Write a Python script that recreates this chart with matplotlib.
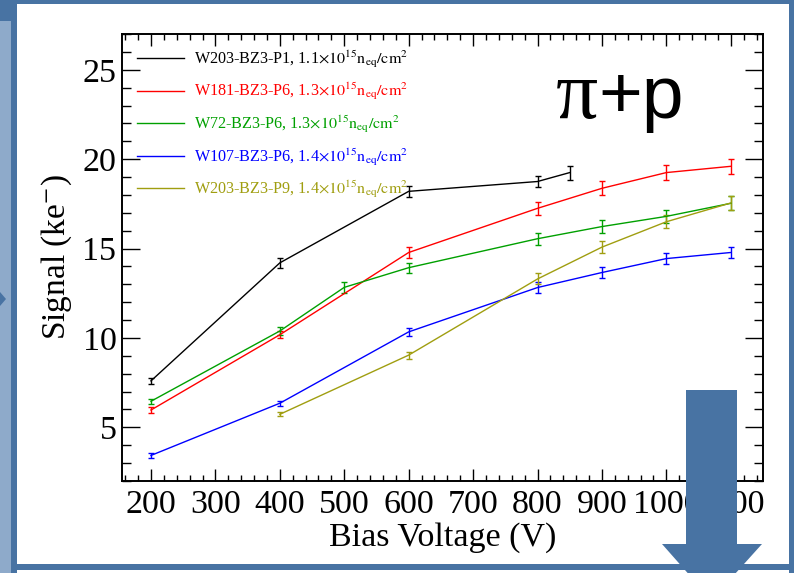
import matplotlib
matplotlib.use("Agg")
import matplotlib.pyplot as plt
from matplotlib.lines import Line2D
from matplotlib.patches import Rectangle, Polygon
from matplotlib.ticker import MultipleLocator

plt.rcParams["font.family"] = ["Liberation Serif", "DejaVu Serif"]
plt.rcParams["mathtext.fontset"] = "stix"

# data
v_w203_p1 = [200, 400, 600, 800, 850]
s_w203_p1 = [7.6, 14.2, 18.2, 18.75, 19.25]
e_w203_p1 = [0.18, 0.3, 0.3, 0.33, 0.39]

v_w181_p6 = [200, 400, 600, 800, 900, 1000, 1100]
s_w181_p6 = [5.97, 10.18, 14.78, 17.25, 18.37, 19.25, 19.6]
e_w181_p6 = [0.15, 0.2, 0.28, 0.38, 0.4, 0.43, 0.42]

v_w72_p6 = [200, 400, 500, 600, 800, 900, 1000, 1100]
s_w72_p6 = [6.46, 10.39, 12.83, 13.93, 15.55, 16.23, 16.8, 17.53]
e_w72_p6 = [0.15, 0.2, 0.29, 0.28, 0.33, 0.37, 0.36, 0.4]

v_w107_p6 = [200, 400, 600, 800, 900, 1000, 1100]
s_w107_p6 = [3.43, 6.35, 10.34, 12.82, 13.66, 14.44, 14.78]
e_w107_p6 = [0.12, 0.15, 0.22, 0.3, 0.33, 0.33, 0.3]

v_w203_p9 = [400, 600, 800, 900, 1000, 1100]
s_w203_p9 = [5.73, 9.04, 13.3, 15.08, 16.5, 17.55]
e_w203_p9 = [0.12, 0.2, 0.31, 0.33, 0.35, 0.38]

labels = [
    r"W203-BZ3-P1, 1.1$\times10^{15}\mathrm{n}_{\mathrm{eq}}/\mathrm{cm}^{2}$",
    r"W181-BZ3-P6, 1.3$\times10^{15}\mathrm{n}_{\mathrm{eq}}/\mathrm{cm}^{2}$",
    r"W72-BZ3-P6, 1.3$\times10^{15}\mathrm{n}_{\mathrm{eq}}/\mathrm{cm}^{2}$",
    r"W107-BZ3-P6, 1.4$\times10^{15}\mathrm{n}_{\mathrm{eq}}/\mathrm{cm}^{2}$",
    r"W203-BZ3-P9, 1.4$\times10^{15}\mathrm{n}_{\mathrm{eq}}/\mathrm{cm}^{2}$",
]
colors = ["black", "#ff0000", "#00a000", "#0000ff", "#a09e10"]

series = [
    (v_w203_p1, s_w203_p1, e_w203_p1),
    (v_w181_p6, s_w181_p6, e_w181_p6),
    (v_w72_p6, s_w72_p6, e_w72_p6),
    (v_w107_p6, s_w107_p6, e_w107_p6),
    (v_w203_p9, s_w203_p9, e_w203_p9),
]

W, H = 794, 573
fig = plt.figure(figsize=(W / 100, H / 100), dpi=100)
fig.patch.set_facecolor("white")

slide_blue = "#4873a3"
light_blue = "#8eaaca"

# slide frame
bg = fig.add_axes([0, 0, 1, 1], zorder=-5)
bg.set_xlim(0, W)
bg.set_ylim(H, 0)
bg.axis("off")
bg.add_patch(Rectangle((0, 0), 11, H, color=light_blue, lw=0))
bg.add_patch(Rectangle((0, 0), 11, 21, color=slide_blue, lw=0))
bg.add_patch(Rectangle((11, 0), 6, H, color=slide_blue, lw=0))
bg.add_patch(Rectangle((0, 0), W, 4, color=slide_blue, lw=0))
bg.add_patch(Rectangle((789, 0), 5, H, color=slide_blue, lw=0))
bg.add_patch(Rectangle((11, 564), W, 6, color=slide_blue, lw=0))
bg.add_patch(Polygon([(0, 292), (6, 299), (0, 306)], color=slide_blue, lw=0))

ax = fig.add_axes([122 / W, 1 - 481 / H, (763 - 122) / W, (481 - 34) / H])
ax.set_facecolor("white")

for (v, s, e), c in zip(series, colors):
    ax.errorbar(v, s, yerr=e, color=c, lw=1.0, elinewidth=1.0, capsize=2.5, capthick=1.0)

ax.set_xlim(155, 1150)
ax.set_ylim(2, 27)
ax.xaxis.set_major_locator(MultipleLocator(100))
ax.xaxis.set_minor_locator(MultipleLocator(20))
ax.yaxis.set_major_locator(MultipleLocator(5))
ax.yaxis.set_minor_locator(MultipleLocator(1))
ax.tick_params(which="both", direction="in", top=True, right=True, width=1.0)
ax.tick_params(axis="x", which="major", length=8.5, labelsize=24.5, pad=6)
ax.tick_params(axis="x", which="minor", length=4.3)
ax.tick_params(axis="y", which="major", length=13, labelsize=24.5, pad=4)
ax.tick_params(axis="y", which="minor", length=6.5)
for sp in ax.spines.values():
    sp.set_linewidth(1.4)

ax.set_xlabel("Bias Voltage (V)", fontsize=24.5, labelpad=2)
ax.set_ylabel(r"Signal (ke$^{-}$)", fontsize=24, labelpad=6)

handles = [Line2D([], [], color=c, lw=1.0) for c in colors]
ax.legend(handles, labels, loc="upper left", bbox_to_anchor=(0.0, 1.0),
          frameon=False, fontsize=11.6, labelcolor=colors, handlelength=2.95,
          handletextpad=0.6, labelspacing=0.7, borderaxespad=0.6, borderpad=0.3)

# "π+p" label: serif pi, sans "+p"
ax.text(0.7426, 0.812, "π", transform=ax.transAxes, fontsize=60,
        ha="right", va="baseline")
ax.text(0.7426, 0.812, "+p", transform=ax.transAxes, fontsize=54,
        family=["Liberation Sans", "DejaVu Sans"], ha="left", va="baseline")

# blue arrow drawn on top of the slide
ov = fig.add_axes([0, 0, 1, 1], zorder=10)
ov.set_xlim(0, W)
ov.set_ylim(H, 0)
ov.axis("off")
ov.patch.set_alpha(0)
ov.add_patch(Polygon([(686, 390), (737, 390), (737, 544), (762, 544), (711.5, 600),
                      (662, 544), (686, 544)], closed=True, color=slide_blue, lw=0, clip_on=False))

fig.savefig("out.png", dpi=100)
